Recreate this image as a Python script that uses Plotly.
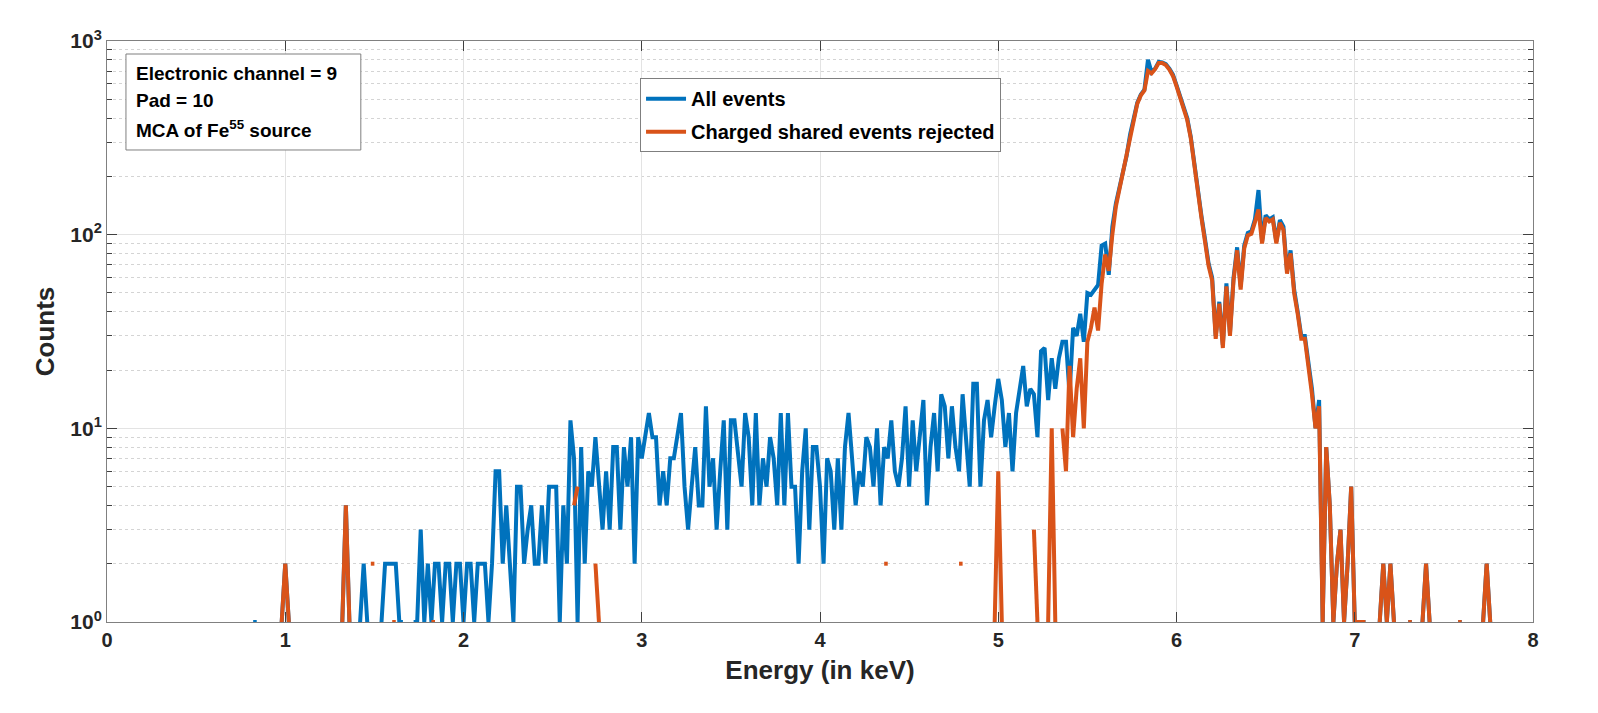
import numpy as np
import plotly.graph_objects as go

# ---------------- data (0.02 keV bins, 0 = empty bin) ----------------
energy_start_keV = 0.80
energy_step_keV = 0.02

all_events = [
    # 0.80 - 0.98
    0, 1, 1, 0, 0, 0, 0, 0, 0, 1,
    # 1.00 - 1.18
    2, 1, 0, 0, 0, 0, 0, 0, 0, 0,
    # 1.20 - 1.38
    0, 0, 0, 0, 0, 0, 1, 4, 1, 0,
    # 1.40 - 1.58
    0, 1, 2, 1, 0, 0, 0, 1, 2, 2,
    # 1.60 - 1.78
    2, 2, 1, 1, 0, 0, 1, 1, 3, 1,
    # 1.80 - 1.98
    2, 1, 2, 2, 1, 2, 2, 1, 2, 2,
    # 2.00 - 2.18
    1, 2, 2, 1, 2, 2, 2, 1, 2, 6,
    # 2.20 - 2.38
    6, 2, 4, 2, 1, 5, 5, 2, 3, 4,
    # 2.40 - 2.58
    2, 2, 4, 2, 5, 5, 5, 1, 4, 2,
    # 2.60 - 2.78
    11, 7, 1, 8, 2, 6, 5, 9, 5, 3,
    # 2.80 - 2.98
    6, 3, 8, 8, 3, 8, 5, 9, 2, 9,
    # 3.00 - 3.18
    7, 9, 12, 9, 9, 4, 6, 4, 7, 7,
    # 3.20 - 3.38
    9, 12, 5, 3, 5, 8, 4, 4, 13, 5,
    # 3.40 - 3.58
    7, 3, 6, 11, 3, 11, 11, 7, 5, 12,
    # 3.60 - 3.78
    9, 4, 12, 4, 7, 5, 9, 7, 4, 12,
    # 3.80 - 3.98
    4, 12, 5, 5, 2, 6, 10, 3, 8, 8,
    # 4.00 - 4.18
    5, 2, 7, 6, 3, 7, 3, 8, 12, 7,
    # 4.20 - 4.38
    4, 6, 5, 9, 8, 5, 10, 4, 8, 7,
    # 4.40 - 4.58
    11, 6, 5, 7, 13, 5, 11, 6, 9, 14,
    # 4.60 - 4.78
    4, 8, 12, 6, 15, 13, 7, 13, 8, 6,
    # 4.80 - 4.98
    15, 8, 5, 17, 17, 5, 11, 14, 9, 13,
    # 5.00 - 5.18
    18, 14, 8, 12, 6, 12, 16, 21, 13, 16,
    # 5.20 - 5.38
    15, 9, 25, 26, 14, 23, 16, 23, 28, 28,
    # 5.40 - 5.58
    15, 33, 30, 39, 28, 50, 49, 52, 55, 88,
    # 5.60 - 5.78
    90, 62, 110, 145, 176, 215, 255, 330, 400, 480,
    # 5.80 - 5.98
    530, 560, 800, 690, 720, 780, 775, 760, 720, 670,
    # 6.00 - 6.18
    592, 520, 470, 400, 320, 230, 170, 125, 95, 71,
    # 6.20 - 6.38
    60, 30, 45, 27, 56, 31, 60, 86, 54, 88,
    # 6.40 - 6.58
    102, 104, 120, 170, 92, 126, 120, 123, 92, 119,
    # 6.60 - 6.78
    110, 65, 83, 52, 40, 30, 30, 22, 16, 10,
    # 6.80 - 6.98
    14, 1, 8, 4, 1, 2, 3, 1, 2, 5,
    # 7.00 - 7.18
    1, 1, 1, 1, 0, 0, 0, 1, 2, 1,
    # 7.20 - 7.38
    2, 1, 0, 0, 0, 1, 1, 0, 0, 1,
    # 7.40 - 7.58
    2, 1, 0, 0, 0, 0, 0, 0, 0, 1,
    # 7.60 - 7.78
    1, 0, 0, 0, 0, 0, 1, 2, 1, 0,
    # 7.80
    0,
]

shared_rejected = [
    # 0.80 - 0.98
    0, 0, 0, 0, 0, 0, 0, 0, 0, 1,
    # 1.00 - 1.18
    2, 1, 0, 0, 0, 0, 0, 0, 0, 0,
    # 1.20 - 1.38
    0, 0, 0, 0, 0, 0, 1, 4, 1, 0,
    # 1.40 - 1.58
    0, 0, 0, 0, 2, 2, 0, 0, 0, 0,
    # 1.60 - 1.78
    1, 1, 0, 0, 0, 0, 0, 0, 0, 0,
    # 1.80 - 1.98
    0, 1, 1, 0, 0, 0, 0, 0, 0, 0,
    # 2.00 - 2.18
    0, 0, 0, 0, 0, 0, 0, 0, 0, 0,
    # 2.20 - 2.38
    0, 0, 0, 0, 0, 0, 0, 0, 0, 0,
    # 2.40 - 2.58
    0, 0, 0, 0, 0, 0, 0, 0, 0, 0,
    # 2.60 - 2.78
    0, 4, 5, 0, 0, 0, 0, 2, 1, 0,
    # 2.80 - 2.98
    0, 0, 0, 0, 0, 0, 0, 0, 0, 0,
    # 3.00 - 3.18
    0, 0, 0, 0, 0, 0, 0, 0, 0, 0,
    # 3.20 - 3.38
    0, 0, 0, 0, 0, 0, 0, 0, 0, 0,
    # 3.40 - 3.58
    0, 0, 0, 0, 0, 0, 0, 0, 0, 0,
    # 3.60 - 3.78
    0, 0, 0, 0, 0, 0, 0, 0, 0, 0,
    # 3.80 - 3.98
    0, 0, 0, 0, 0, 0, 0, 0, 0, 0,
    # 4.00 - 4.18
    0, 0, 0, 0, 0, 0, 0, 0, 0, 0,
    # 4.20 - 4.38
    0, 0, 0, 0, 0, 0, 0, 0, 2, 2,
    # 4.40 - 4.58
    0, 0, 0, 0, 0, 0, 0, 0, 0, 0,
    # 4.60 - 4.78
    0, 0, 0, 0, 0, 0, 0, 0, 0, 2,
    # 4.80 - 4.98
    2, 0, 0, 0, 0, 0, 0, 0, 0, 1,
    # 5.00 - 5.18
    6, 1, 0, 0, 0, 0, 0, 0, 0, 0,
    # 5.20 - 5.38
    3, 1, 0, 0, 1, 10, 1, 0, 10, 6,
    # 5.40 - 5.58
    21, 9, 16, 23, 10, 28, 33, 42, 32, 56,
    # 5.60 - 5.78
    79, 65, 100, 140, 172, 212, 250, 325, 395, 475,
    # 5.80 - 5.98
    525, 555, 700, 680, 715, 770, 770, 752, 712, 660,
    # 6.00 - 6.18
    585, 515, 462, 392, 315, 226, 166, 122, 92, 69,
    # 6.20 - 6.38
    58, 29, 44, 26, 54, 30, 58, 83, 52, 85,
    # 6.40 - 6.58
    99, 101, 116, 135, 90, 122, 117, 120, 90, 115,
    # 6.60 - 6.78
    106, 63, 80, 50, 39, 29, 29, 21, 15, 10,
    # 6.80 - 6.98
    13, 1, 8, 4, 1, 2, 3, 1, 2, 5,
    # 7.00 - 7.18
    1, 1, 1, 1, 0, 0, 0, 1, 2, 1,
    # 7.20 - 7.38
    2, 1, 0, 0, 0, 1, 1, 0, 0, 1,
    # 7.40 - 7.58
    2, 1, 0, 0, 0, 0, 0, 0, 0, 1,
    # 7.60 - 7.78
    1, 0, 0, 0, 0, 0, 1, 2, 1, 0,
    # 7.80
    0,
]

x_tick_values = [0, 1, 2, 3, 4, 5, 6, 7, 8]
y_tick_values = [1, 10, 100, 1000]
y_tick_labels = ["10<sup>0</sup>", "10<sup>1</sup>", "10<sup>2</sup>", "10<sup>3</sup>"]

series_names = ["All events", "Charged shared events rejected"]
info_lines = ["Electronic channel = 9", "Pad = 10", "MCA of Fe<sup>55</sup> source"]

# ---------------- build ----------------
energy = energy_start_keV + energy_step_keV * np.arange(len(all_events))


def gaps(values):
    # empty bins cannot be shown on a log axis -> leave a gap
    return [v if v > 0 else None for v in values]


BLUE = "#0072BD"
ORANGE = "#D95319"
FONT = "Liberation Sans, Arial, sans-serif"
TXT = "#262626"
GRID = "#e3e3e3"

fig = go.Figure()
fig.add_trace(go.Scatter(
    x=energy, y=gaps(all_events), mode="lines", name=series_names[0],
    line=dict(color=BLUE, width=4), legendgroup="a",
))
fig.add_trace(go.Scatter(
    x=energy, y=gaps(shared_rejected), mode="lines", name=series_names[1],
    line=dict(color=ORANGE, width=4), legendgroup="b",
))

fig.update_layout(
    width=1598, height=713,
    margin=dict(l=107, r=65, t=41, b=91),
    paper_bgcolor="white", plot_bgcolor="white",
    font=dict(family=FONT, color=TXT),
    showlegend=True,
    legend=dict(
        x=0.3738, y=0.936, xanchor="left", yanchor="top",
        bgcolor="white", bordercolor="#7f7f7f", borderwidth=1,
        font=dict(family=FONT, size=20, color="black", weight="bold"),
        tracegroupgap=4, itemwidth=40,
    ),
)

fig.update_xaxes(
    range=[0, 8], tickvals=x_tick_values, ticktext=[str(v) for v in x_tick_values],
    showgrid=True, gridcolor=GRID, gridwidth=1,
    showline=True, linecolor="#808080", linewidth=1, mirror="ticks",
    ticks="inside", ticklen=10, tickcolor="#404040", tickwidth=1,
    tickfont=dict(family=FONT, size=20, color=TXT, weight="bold"),
    title=dict(text="Energy (in keV)", standoff=10,
               font=dict(family=FONT, size=26, color=TXT, weight="bold")),
    zeroline=False,
)

fig.update_yaxes(
    type="log", range=[0, 3],
    tickvals=y_tick_values, ticktext=y_tick_labels,
    showgrid=True, gridcolor=GRID, gridwidth=1,
    showline=True, linecolor="#808080", linewidth=1, mirror="ticks",
    ticks="inside", ticklen=10, tickcolor="#404040", tickwidth=1,
    tickfont=dict(family=FONT, size=21, color=TXT, weight="bold"),
    minor=dict(dtick="D1", ticks="inside", ticklen=5, tickcolor="#404040",
               showgrid=True, gridcolor="#d4d4d4", griddash="dot", gridwidth=1),
    title=dict(text="Counts", standoff=8,
               font=dict(family=FONT, size=26, color=TXT, weight="bold")),
    zeroline=False,
)

# info box
fig.add_shape(type="rect", xref="paper", yref="paper",
              x0=0.0133, x1=0.178, y0=0.8124, y1=0.9776,
              line=dict(color="#7f7f7f", width=1), fillcolor="white", layer="above")
for line_text, ypos in zip(info_lines, [0.944, 0.897, 0.848]):
    fig.add_annotation(xref="paper", yref="paper", x=0.0186, y=ypos,
                       xanchor="left", yanchor="middle", showarrow=False,
                       text=line_text,
                       font=dict(family=FONT, size=19, color="black", weight="bold"))

fig.write_html("out.html")
